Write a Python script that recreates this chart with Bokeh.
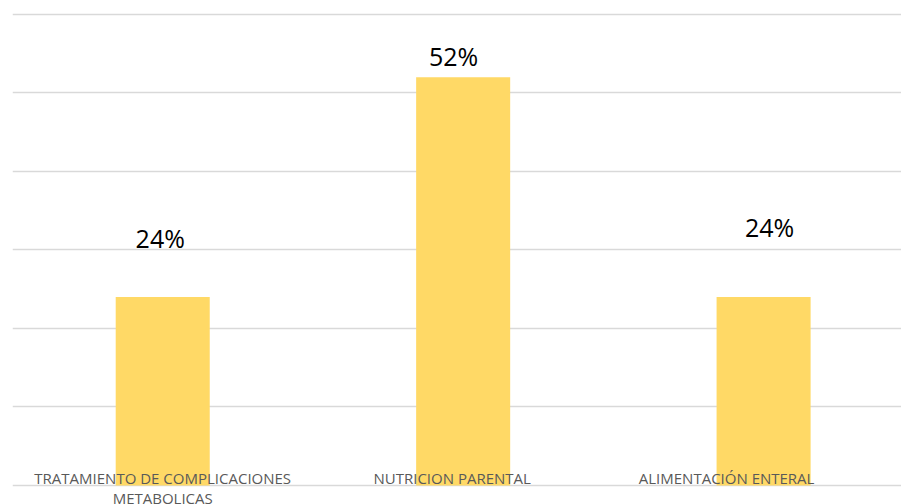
from bokeh.plotting import figure
from bokeh.models import Range1d, Grid, FixedTicker, ColumnDataSource
from bokeh.core.properties import value
from bokeh.embed import file_html
from bokeh.resources import INLINE

# ---- data ----
categories = ["TRATAMIENTO DE COMPLICACIONES\nMETABOLICAS", "NUTRICION PARENTAL", "ALIMENTACIÓN ENTERAL"]
values = [24, 52, 24]
value_labels = [f"{v}%" for v in values]
grid_ticks = [0, 10, 20, 30, 40, 50, 60]

# ---- style (pixel offsets for manually placed labels) ----
label_dx = [-2.5, -9.5, 6]
label_dy = [-59, -21, -70]
cat_dx = [0, -11, -37]
BAR_COLOR = "#FFD966"
FONT = "Open Sans"

p = figure(width=901, height=504,
           x_range=Range1d(0, 2.959), y_range=Range1d(-2.42, 61.78),
           x_axis_type=None, y_axis_type=None,
           toolbar_location=None, output_backend="svg",
           min_border_left=12, min_border_right=0, min_border_top=0, min_border_bottom=0)
p.outline_line_color = None
p.background_fill_color = "white"
p.border_fill_color = "white"

g = Grid(dimension=1, ticker=FixedTicker(ticks=grid_ticks),
         grid_line_color="#d9d9d9", grid_line_width=1.5)
p.add_layout(g)

xs = [i + 0.5 for i in range(len(categories))]
src = ColumnDataSource(dict(x=xs, top=values, lab=value_labels, dx=label_dx, dy=label_dy))
p.vbar(x="x", top="top", bottom=0, width=0.313, source=src,
       fill_color=BAR_COLOR, line_color=None)

p.text(x="x", y="top", text="lab", x_offset="dx", y_offset="dy", source=src,
       text_font=value(FONT), text_font_size="25px", text_color="black",
       text_align="center", text_baseline="alphabetic")

# category labels (multi-line split)
cx, cy, ct, cdx, cdy = [], [], [], [], []
for i, cat in enumerate(categories):
    for j, line in enumerate(cat.split("\n")):
        cx.append(xs[i]); cy.append(0); ct.append(line)
        cdx.append(cat_dx[i]); cdy.append(-8 + j * 20.4)
csrc = ColumnDataSource(dict(x=cx, y=cy, t=ct, dx=cdx, dy=cdy))
p.text(x="x", y="y", text="t", x_offset="dx", y_offset="dy", source=csrc,
       text_font=value(FONT), text_font_size="15px", text_color="#595959",
       text_align="center", text_baseline="alphabetic")

open("out.html", "w").write(file_html(p, INLINE))
